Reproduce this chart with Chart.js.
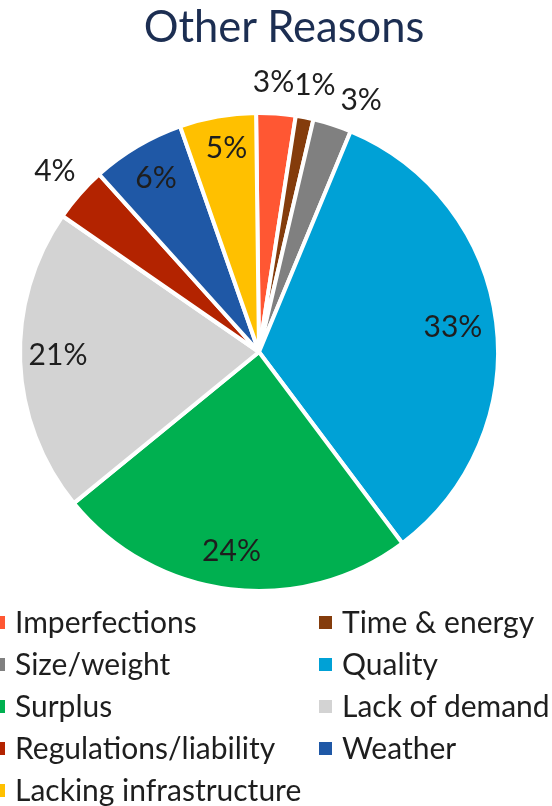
<!DOCTYPE html>
<html>
<head>
<meta charset="utf-8">
<script src="https://cdn.jsdelivr.net/npm/chart.js@4.4.0/dist/chart.umd.min.js"></script>
<style>
html,body{margin:0;padding:0;background:#fff;width:552px;height:806px;overflow:hidden;}
#wrap{position:relative;width:552px;height:806px;}
#c{position:absolute;left:0;top:0;}
#title{position:absolute;left:0;top:-1px;width:568px;text-align:center;font-family:Lato,"Open Sans",sans-serif;
  font-size:43.5px;line-height:1.2;color:#1C2E52;white-space:nowrap;}
#legend{position:absolute;left:-8px;top:600px;font-family:Lato,"Open Sans",sans-serif;font-size:30px;line-height:42px;color:#1e1e1e;
  display:grid;grid-template-columns:327px auto;grid-auto-rows:42px;}
.item{display:flex;align-items:flex-start;white-space:nowrap;}
.sw{width:13px;height:13px;margin-top:16px;margin-right:10px;flex:none;}
</style>
</head>
<body>
<div id="wrap">
<canvas id="c" width="552" height="806"></canvas>
<div id="title"></div>
<div id="legend"></div>
</div>
<script>
const TITLE = 'Other Reasons';
const categories = ['Imperfections','Time & energy','Size/weight','Quality','Surplus','Lack of demand','Regulations/liability','Weather','Lacking infrastructure'];
const values = [2.65, 1.2, 2.6, 33.45, 24.3, 20.5, 3.7, 6.3, 5.15];
const colors = ['#FF5733','#843C0C','#808080','#00A1D6','#00B050','#D3D3D3','#B32300','#1F58A6','#FFC000'];
// label placement (fraction of radius, angle shift in degrees)
const labelRadius = [1.131, 1.141, 1.138, 0.818, 0.84, 0.841, 1.141, 0.846, 0.861];
const labelShift = [-1.0, 0.8, 4.2, 0.0, 0.9, 1.2, 0.2, 0, 0.9];

document.getElementById('title').textContent = TITLE;

const pctLabels = {
  id: 'pctLabels',
  afterDatasetsDraw(chart) {
    const ctx = chart.ctx;
    const meta = chart.getDatasetMeta(0);
    ctx.save();
    ctx.font = '30px Lato, "Open Sans", sans-serif';
    ctx.fillStyle = '#1e1e1e';
    ctx.textAlign = 'center';
    ctx.textBaseline = 'middle';
    meta.data.forEach((arc, i) => {
      const p = arc.getProps(['x','y','startAngle','endAngle','outerRadius'], true);
      const mid = (p.startAngle + p.endAngle) / 2 + labelShift[i] * Math.PI / 180;
      const r = p.outerRadius * labelRadius[i];
      ctx.fillText(Math.round(values[i]) + '%', p.x + Math.cos(mid) * r, p.y + Math.sin(mid) * r);
    });
    ctx.restore();
  }
};

const chart = new Chart(document.getElementById('c'), {
  type: 'pie',
  data: {
    labels: categories,
    datasets: [{
      data: values,
      backgroundColor: colors,
      borderColor: '#ffffff',
      borderWidth: 4,
      radius: 239
    }]
  },
  options: {
    responsive: false,
    animation: false,
    devicePixelRatio: 1,
    rotation: -0.7,
    layout: { padding: { left: 23, right: 57, top: 116, bottom: 218 } },
    plugins: {
      title: { display: false },
      legend: { display: false },
      tooltip: { enabled: false }
    }
  },
  plugins: [pctLabels]
});

const lg = document.getElementById('legend');
chart.data.labels.forEach((lab, i) => {
  const d = document.createElement('div');
  d.className = 'item';
  const s = document.createElement('span');
  s.className = 'sw';
  s.style.background = colors[i];
  const t = document.createElement('span');
  t.textContent = lab;
  d.appendChild(s); d.appendChild(t);
  lg.appendChild(d);
});
</script>
</body>
</html>
